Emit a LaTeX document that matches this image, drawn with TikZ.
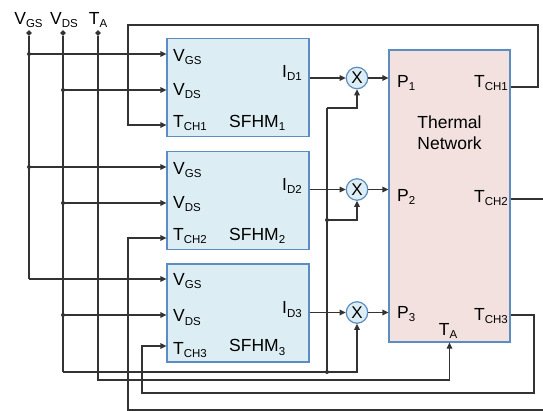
\documentclass[tikz,border=0pt]{standalone}
\usepackage{fontspec}
\setmainfont{Liberation Sans}
\usetikzlibrary{arrows.meta,shapes.geometric}
\definecolor{wirec}{HTML}{333333}
\definecolor{boxb}{HTML}{5B8CC2}
\definecolor{bluef}{HTML}{DCEDF3}
\definecolor{pinkf}{HTML}{F2E1DF}
\newcommand\lsub[1]{\raisebox{-3pt}{\fontsize{11.5}{12}\selectfont #1}}
\begin{document}
\begin{tikzpicture}[x=1pt,y=-1pt,
  wire/.style={draw=wirec,line width=1.2pt},
  arr/.style={wire,-{Triangle[length=6pt,width=5.5pt]}},
  sfhm/.style={draw=boxb,fill=bluef,line width=1.2pt,minimum width=142pt,minimum height=98pt,inner sep=0pt},
  tnbox/.style={draw=boxb,fill=pinkf,line width=1.2pt,minimum width=121pt,minimum height=292pt,inner sep=0pt},
  mult/.style={circle,draw=boxb,fill=bluef,line width=1.2pt,minimum size=21.5pt,inner sep=0pt,font=\fontsize{17}{17}\selectfont},
  jdot/.style={circle,fill=wirec,inner sep=0pt,minimum size=4pt},
  term/.style={diamond,fill=wirec,inner sep=0pt,minimum size=6pt},
  lbl/.style={inner sep=0pt,font=\fontsize{17.5}{20}\selectfont},
  lw/.style={lbl,anchor=base west},
  le/.style={lbl,anchor=base east},
  lc/.style={lbl,anchor=base}]
\useasboundingbox (0,0) rectangle (543,411);
\clip (0,0) rectangle (543,411);

% blocks
\node[sfhm] (s1) at (238,87.5) {};
\node[sfhm] (s2) at (238,200.5) {};
\node[sfhm] (s3) at (238,313) {};
\node[tnbox] (tn) at (449.5,196) {};
\node[mult] (m1) at (357,78) {X};
\node[mult] (m2) at (357,189.5) {X};
\node[mult] (m3) at (357,312.5) {X};

% terminals
\node[term] (tvgs) at (29,33) {};
\node[term] (tvds) at (63,33) {};
\node[term] (tta) at (98,33) {};
\node[lc] (lvgs) at (28.5,25) {V\lsub{GS}};
\node[lc] (lvds) at (64,25) {V\lsub{DS}};
\node[lc] (lta) at (98,25) {T\lsub{A}};

% junction coordinates
\coordinate (g1) at (29,54);
\coordinate (g2) at (29,167);
\coordinate (g3) at (29,279);
\coordinate (d1) at (63,90);
\coordinate (d2) at (63,203);
\coordinate (d3) at (63,315);
\coordinate (d4) at (63,372);
\coordinate (v1) at (327,108);
\coordinate (v2) at (327,220);
\coordinate (v3) at (327,372);
\coordinate (ta) at (98,380);

% VGS bus
\draw[wire] (tvgs) -- (g3);
\draw[arr] (g1) -- (s1.west |- g1);
\draw[arr] (g2) -- (s2.west |- g2);
\draw[arr] (g3) -- (s3.west |- g3);
% VDS bus
\draw[wire] (tvds) -- (d4);
\draw[arr] (d1) -- (s1.west |- d1);
\draw[arr] (d2) -- (s2.west |- d2);
\draw[arr] (d3) -- (s3.west |- d3);
\draw[arr] (d4) -| (m3.south);
\draw[wire] (v3) -- (v1);
\draw[arr] (v1) -| (m1.south);
\draw[arr] (v2) -| (m2.south);
% TA
\draw[arr] (tta) -- (ta) -| (tn.south);

% currents and powers
\draw[arr] (s1.east |- m1) -- (m1);
\draw[arr] (s2.east |- m2) -- (m2);
\draw[arr] (s3.east |- m3) -- (m3);
\draw[arr] (m1) -- (tn.west |- m1);
\draw[arr] (m2) -- (tn.west |- m2);
\draw[arr] (m3) -- (tn.west |- m3);

% temperature feedback
\draw[arr] (tn.east |- 0,87) -- (538,87) -- (538,25) -- (128,25) -- (128,125) -- (s1.west |- 0,125);
\draw[arr] (tn.east |- 0,199) -- (550,199) -- (550,410) -- (128,410) -- (128,238) -- (s2.west |- 0,238);
\draw[arr] (tn.east |- 0,315) -- (534,315) -- (534,393) -- (142,393) -- (142,346) -- (s3.west |- 0,346);

% junction dots
\foreach \p in {g1,g2,d1,d2,d3,v2,v3} \node[jdot] at (\p) {};

% SFHM labels
\node[lw] at (173,62) {V\lsub{GS}};
\node[lw] at (173,96) {V\lsub{DS}};
\node[lw] at (173,128) {T\lsub{CH1}};
\node[lw] at (229,128) {SFHM\lsub{1}};
\node[le] at (302,78) {I\lsub{D1}};

\node[lw] at (173,175) {V\lsub{GS}};
\node[lw] at (173,209) {V\lsub{DS}};
\node[lw] at (173,241) {T\lsub{CH2}};
\node[lw] at (229,241) {SFHM\lsub{2}};
\node[le] at (302,191) {I\lsub{D2}};

\node[lw] at (173,286) {V\lsub{GS}};
\node[lw] at (173,322) {V\lsub{DS}};
\node[lw] at (173,354) {T\lsub{CH3}};
\node[lw] at (229,352) {SFHM\lsub{3}};
\node[le] at (302,314) {I\lsub{D3}};

% thermal network labels
\node[lw] at (397,88) {P\lsub{1}};
\node[le] at (508,88) {T\lsub{CH1}};
\node[lc] at (449.5,129) {Thermal};
\node[lc] at (449.5,150) {Network};
\node[lw] at (397,202) {P\lsub{2}};
\node[le] at (508,203) {T\lsub{CH2}};
\node[lw] at (397,319) {P\lsub{3}};
\node[le] at (508,320) {T\lsub{CH3}};
\node[lc] at (448,335) {T\lsub{A}};
\end{tikzpicture}
\end{document}
